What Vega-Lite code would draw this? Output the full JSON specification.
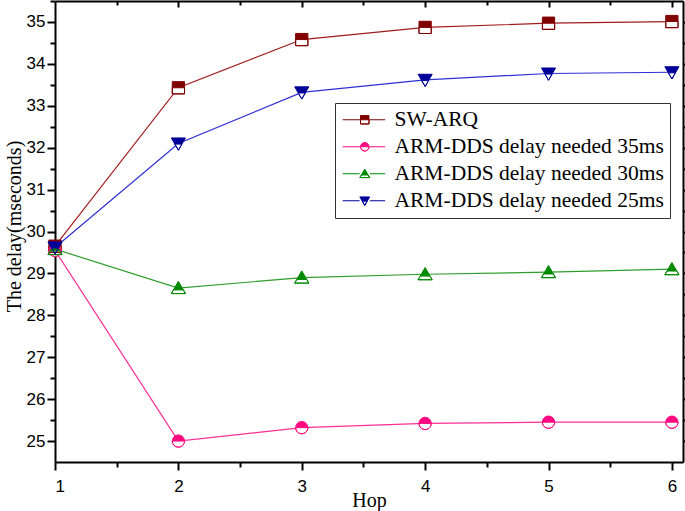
{
  "$schema": "https://vega.github.io/schema/vega-lite/v6.json",
  "width": 628,
  "height": 461,
  "autosize": "none",
  "padding": {"left": 55, "top": 1, "right": 2, "bottom": 49},
  "background": "white",
  "config": {
    "view": {"stroke": null},
    "axis": {
      "domainColor": "black", "domainWidth": 2, "tickColor": "black", "tickWidth": 2,
      "labelFont": "Liberation Sans", "labelFontSize": 17, "labelColor": "black",
      "titleFont": "Liberation Serif", "titleFontSize": 20, "titleFontWeight": "normal", "titleColor": "black",
      "grid": false
    }
  },
  "data": {"values": [
    {"hop": 1, "delay": 29.65, "series": "SW-ARQ"},
    {"hop": 2, "delay": 33.43, "series": "SW-ARQ"},
    {"hop": 3, "delay": 34.58, "series": "SW-ARQ"},
    {"hop": 4, "delay": 34.87, "series": "SW-ARQ"},
    {"hop": 5, "delay": 34.97, "series": "SW-ARQ"},
    {"hop": 6, "delay": 35.01, "series": "SW-ARQ"},
    {"hop": 1, "delay": 29.55, "series": "ARM-DDS delay needed 35ms"},
    {"hop": 2, "delay": 25.0, "series": "ARM-DDS delay needed 35ms"},
    {"hop": 3, "delay": 25.32, "series": "ARM-DDS delay needed 35ms"},
    {"hop": 4, "delay": 25.42, "series": "ARM-DDS delay needed 35ms"},
    {"hop": 5, "delay": 25.45, "series": "ARM-DDS delay needed 35ms"},
    {"hop": 6, "delay": 25.45, "series": "ARM-DDS delay needed 35ms"},
    {"hop": 1, "delay": 29.58, "series": "ARM-DDS delay needed 30ms"},
    {"hop": 2, "delay": 28.65, "series": "ARM-DDS delay needed 30ms"},
    {"hop": 3, "delay": 28.9, "series": "ARM-DDS delay needed 30ms"},
    {"hop": 4, "delay": 28.98, "series": "ARM-DDS delay needed 30ms"},
    {"hop": 5, "delay": 29.03, "series": "ARM-DDS delay needed 30ms"},
    {"hop": 6, "delay": 29.1, "series": "ARM-DDS delay needed 30ms"},
    {"hop": 1, "delay": 29.62, "series": "ARM-DDS delay needed 25ms"},
    {"hop": 2, "delay": 32.1, "series": "ARM-DDS delay needed 25ms"},
    {"hop": 3, "delay": 33.32, "series": "ARM-DDS delay needed 25ms"},
    {"hop": 4, "delay": 33.62, "series": "ARM-DDS delay needed 25ms"},
    {"hop": 5, "delay": 33.77, "series": "ARM-DDS delay needed 25ms"},
    {"hop": 6, "delay": 33.8, "series": "ARM-DDS delay needed 25ms"}
  ]},
  "layer": [
    {
      "mark": {"type": "line", "strokeWidth": 1.2},
      "encoding": {
        "x": {"field": "hop", "type": "quantitative", "scale": {"domain": [1, 6.09], "nice": false, "zero": false},
          "axis": {"orient": "bottom", "title": "Hop", "titlePadding": -4,
            "values": [1, 1.5, 2, 2.5, 3, 3.5, 4, 4.5, 5, 5.5, 6],
            "labelExpr": "datum.value % 1 === 0 ? '' + datum.value : ''",
            "tickSize": {"condition": {"test": "datum.value % 1 === 0", "value": 8}, "value": 5},
            "labelPadding": 8}},
        "y": {"field": "delay", "type": "quantitative", "scale": {"domain": [24.5, 35.5], "nice": false, "zero": false},
          "axis": {"orient": "left", "title": "The delay(mseconds)", "titlePadding": 2, "titleY": 225,
            "values": [25, 25.5, 26, 26.5, 27, 27.5, 28, 28.5, 29, 29.5, 30, 30.5, 31, 31.5, 32, 32.5, 33, 33.5, 34, 34.5, 35, 35.5],
            "labelExpr": "datum.value % 1 === 0 ? '' + datum.value : ''",
            "tickSize": {"condition": {"test": "datum.value % 1 === 0", "value": 8}, "value": 5},
            "labelPadding": 2}},
        "color": {"field": "series", "type": "nominal", "legend": null,
          "scale": {"domain": ["SW-ARQ", "ARM-DDS delay needed 35ms", "ARM-DDS delay needed 30ms", "ARM-DDS delay needed 25ms"],
            "range": ["#a01c1c", "#ff2d95", "#2e9e2e", "#2f2fd6"]}}
      }
    },
    {
      "mark": {"type": "point", "filled": true, "fill": "white", "strokeWidth": 0, "size": 150, "opacity": 1},
      "encoding": {
        "x": {"field": "hop", "type": "quantitative", "scale": {"domain": [1, 6.09], "nice": false, "zero": false},
          "axis": {"orient": "top", "title": null, "labels": false,
            "values": [1.5, 2, 2.5, 3, 3.5, 4, 4.5, 5, 5.5, 6],
            "tickSize": {"condition": {"test": "datum.value % 1 === 0", "value": -6}, "value": -4}}},
        "y": {"field": "delay", "type": "quantitative", "scale": {"domain": [24.5, 35.5], "nice": false, "zero": false},
          "axis": {"orient": "right", "title": null, "labels": false,
            "values": [25, 25.5, 26, 26.5, 27, 27.5, 28, 28.5, 29, 29.5, 30, 30.5, 31, 31.5, 32, 32.5, 33, 33.5, 34, 34.5, 35],
            "tickSize": {"condition": {"test": "datum.value % 1 === 0", "value": 4}, "value": 2}}},
        "shape": {"field": "series", "type": "nominal", "legend": null,
          "scale": {"domain": ["SW-ARQ", "ARM-DDS delay needed 35ms", "ARM-DDS delay needed 30ms", "ARM-DDS delay needed 25ms"],
            "range": ["M-1,-1H1V1H-1Z", "M-1,0A1,1,0,1,1,1,0A1,1,0,1,1,-1,0Z", "M0,-1.1L1.15,0.9H-1.15Z", "M-1.15,-0.9H1.15L0,1.1Z"]}}
      }
    },
    {
      "mark": {"type": "point", "filled": true, "strokeWidth": 1, "size": 150, "opacity": 1},
      "encoding": {
        "x": {"field": "hop", "type": "quantitative", "scale": {"domain": [1, 6.09], "nice": false, "zero": false}, "axis": null},
        "y": {"field": "delay", "type": "quantitative", "scale": {"domain": [24.5, 35.5], "nice": false, "zero": false}, "axis": null},
        "shape": {"field": "series", "type": "nominal", "legend": null,
          "scale": {"domain": ["SW-ARQ", "ARM-DDS delay needed 35ms", "ARM-DDS delay needed 30ms", "ARM-DDS delay needed 25ms"],
            "range": ["M-1,-1H1V1H-1ZM-1,0V1H1V0Z", "M-1,0A1,1,0,1,1,1,0A1,1,0,1,1,-1,0ZM-1,0A1,1,0,0,0,1,0Z", "M0,-1.1L1.15,0.9H-1.15ZM-0.805,0.3L-1.15,0.9H1.15L0.805,0.3Z", "M-1.15,-0.9H1.15L0,1.1ZM-0.575,0.1L0,1.1L0.575,0.1Z"]}},
        "fill": {"field": "series", "type": "nominal", "legend": null,
          "scale": {"domain": ["SW-ARQ", "ARM-DDS delay needed 35ms", "ARM-DDS delay needed 30ms", "ARM-DDS delay needed 25ms"],
            "range": ["#800000", "#ff0a80", "#008a00", "#000099"]}},
        "stroke": {"field": "series", "type": "nominal", "legend": null,
          "scale": {"domain": ["SW-ARQ", "ARM-DDS delay needed 35ms", "ARM-DDS delay needed 30ms", "ARM-DDS delay needed 25ms"],
            "range": ["#800000", "#ff0a80", "#008a00", "#000099"]}}
      }
    },
    {
      "transform": [{"filter": "datum.hop > 100"}],
      "mark": {"type": "point", "filled": true, "strokeWidth": 1, "size": 72, "opacity": 1},
      "encoding": {
        "x": {"field": "hop", "type": "quantitative", "scale": {"domain": [1, 6.09], "nice": false, "zero": false}, "axis": null},
        "y": {"field": "delay", "type": "quantitative", "scale": {"domain": [24.5, 35.5], "nice": false, "zero": false}, "axis": null},
        "shape": {"field": "series", "type": "nominal",
          "scale": {"domain": ["SW-ARQ", "ARM-DDS delay needed 35ms", "ARM-DDS delay needed 30ms", "ARM-DDS delay needed 25ms"],
            "range": ["M-5.2,0H-1.1M1.1,0H4.8M-1,-1H1V1H-1ZM-1,0V1H1V0Z", "M-5.2,0H-1.1M1.1,0H4.8M-1,0A1,1,0,1,1,1,0A1,1,0,1,1,-1,0ZM-1,0A1,1,0,0,0,1,0Z", "M-5.2,0H-1.2M1.2,0H4.8M0,-1.1L1.15,0.9H-1.15ZM-0.805,0.3L-1.15,0.9H1.15L0.805,0.3Z", "M-5.2,0H-1.2M1.2,0H4.8M-1.15,-0.9H1.15L0,1.1ZM-0.575,0.1L0,1.1L0.575,0.1Z"]},
          "legend": {"orient": "none", "legendX": 280, "legendY": 102, "title": null, "labelFont": "Liberation Serif", "labelFontSize": 21.5, "labelColor": "black", "strokeColor": "#333333", "fillColor": "white", "padding": 6, "rowPadding": 4, "symbolOffset": 13, "labelOffset": 19, "symbolStrokeWidth": 1, "symbolSize": 72, "labelLimit": 400}},
        "fill": {"field": "series", "type": "nominal",
          "scale": {"domain": ["SW-ARQ", "ARM-DDS delay needed 35ms", "ARM-DDS delay needed 30ms", "ARM-DDS delay needed 25ms"],
            "range": ["#800000", "#ff0a80", "#008a00", "#000099"]},
          "legend": {"orient": "none", "legendX": 280, "legendY": 102, "title": null, "labelFont": "Liberation Serif", "labelFontSize": 21.5, "labelColor": "black", "strokeColor": "#333333", "fillColor": "white", "padding": 6, "rowPadding": 4, "symbolOffset": 13, "labelOffset": 19, "symbolStrokeWidth": 1, "symbolSize": 72, "labelLimit": 400}},
        "stroke": {"field": "series", "type": "nominal",
          "scale": {"domain": ["SW-ARQ", "ARM-DDS delay needed 35ms", "ARM-DDS delay needed 30ms", "ARM-DDS delay needed 25ms"],
            "range": ["#800000", "#ff0a80", "#008a00", "#000099"]},
          "legend": {"orient": "none", "legendX": 280, "legendY": 102, "title": null, "labelFont": "Liberation Serif", "labelFontSize": 21.5, "labelColor": "black", "strokeColor": "#333333", "fillColor": "white", "padding": 6, "rowPadding": 4, "symbolOffset": 13, "labelOffset": 19, "symbolStrokeWidth": 1, "symbolSize": 72, "labelLimit": 400}}
      }
    }
  ],
  "resolve": {
    "scale": {"shape": "independent", "fill": "independent", "stroke": "independent"},
    "axis": {"x": "independent", "y": "independent"}
  }
}
